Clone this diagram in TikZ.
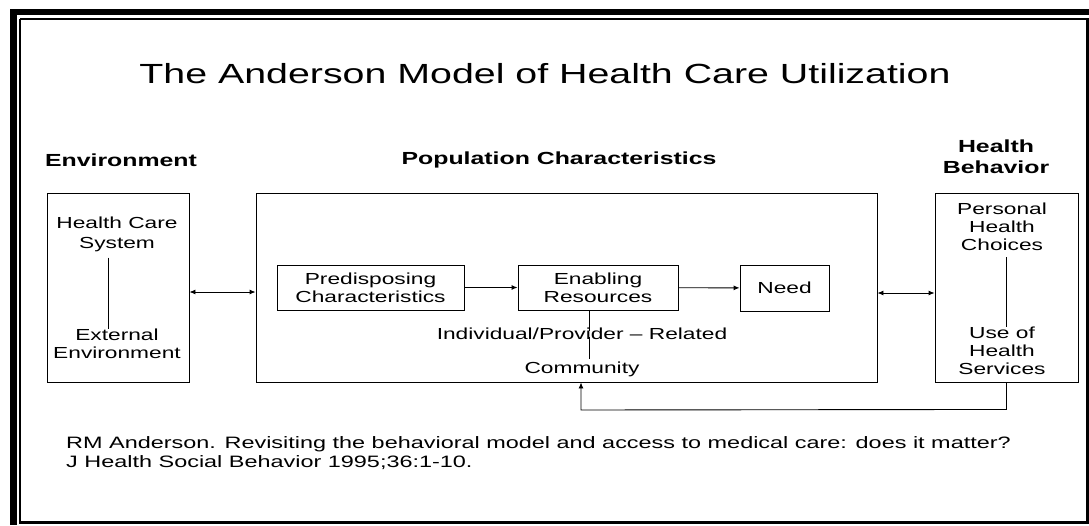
\documentclass[tikz,border=0pt]{standalone}
\usepackage{fontspec}
\setmainfont{Liberation Sans}[FakeStretch=1.42]
\usetikzlibrary{arrows.meta}
\tikzset{
  box/.style={draw, line width=0.9pt, inner sep=0pt, anchor=center},
  txt/.style={inner sep=0pt, align=center, font=\fontsize{16}{18}\selectfont},
  head/.style={inner sep=0pt, align=center, font=\fontsize{17.5}{21}\selectfont\bfseries},
  conn/.style={line width=0.9pt},
  arr/.style={line width=0.9pt, -{Latex[length=6pt,width=5pt]}},
  darr/.style={line width=0.9pt, {Latex[length=6pt,width=5pt]}-{Latex[length=6pt,width=5pt]}},
}
\begin{document}
\begin{tikzpicture}[x=1pt,y=-1pt]
\useasboundingbox (0,0) rectangle (1089,525);
\fill[white] (0,0) rectangle (1089,525);
% frame
\fill[black] (10,9) rectangle (1089,15);
\fill[black] (10,9) rectangle (17,525);
\fill[black] (1086,18) rectangle (1089,524);
\fill[black] (19,521) rectangle (1089,524);
\draw[line width=1.5pt] (20,19) -- (1086,19);
\draw[line width=1.5pt] (20,19) -- (20,521);
% title
\node[inner sep=0pt, font=\fontsize{27.7}{30}\selectfont] (title) at (545,74) {The Anderson Model of Health Care Utilization};
% headers
\node[head] (henv) at (121,160) {Environment};
\node[head] (hpop) at (559,160) {Population Characteristics};
\node[head] (hhb) at (996,157) {Health\\Behavior};
% big boxes
\node[box, minimum width=142pt, minimum height=189pt] (env) at (118,287.5) {};
\node[box, minimum width=621pt, minimum height=189pt] (pop) at (566.5,287.5) {};
\node[box, minimum width=143pt, minimum height=189pt] (hb) at (1006.5,287.5) {};
% inner boxes
\node[box, minimum width=187pt, minimum height=45pt, txt] (pre) at (370.5,287.5) {Predisposing\\Characteristics};
\node[box, minimum width=160pt, minimum height=45pt, txt] (ena) at (598,287.5) {Enabling\\Resources};
\node[box, minimum width=89pt, minimum height=46pt, txt] (need) at (784.5,288) {Need};
% texts
\node[txt, font=\fontsize{16}{20}\selectfont] (hcs) at (117,234) {Health Care\\System};
\node[txt] (ext) at (117,344) {External\\Environment};
\node[txt] (phc) at (1002,227) {Personal\\Health\\Choices};
\node[txt] (uhs) at (1002,351) {Use of\\Health\\Services};
\node[txt] (ipr) at (582,334) {Individual/Provider -- Related};
\node[txt] (com) at (582,369) {Community};
% inner lines
\draw[conn] ([xshift=-9pt,yshift=-6pt]hcs.south) -- ([xshift=-9pt]hcs.south |- ext.north);
\draw[conn] ([xshift=4pt,yshift=-6pt]phc.south) -- ([xshift=4pt]phc.south |- uhs.north);
\draw[conn] ([xshift=-9pt]ena.south) -- ([xshift=-9pt,yshift=-3pt]ena.south |- ipr.north);
\draw[conn] ([xshift=7pt,yshift=3pt]ipr.south) -- ([xshift=7pt,yshift=2pt]ipr.south |- com.north);
% arrows
\draw[darr] ([yshift=-4.5pt]env.east) -- ([yshift=-4.5pt]env.east -| pop.west);
\draw[darr] ([yshift=-5.5pt]pop.east) -- ([yshift=-5.5pt]pop.east -| hb.west);
\draw[arr] (pre) -- (ena);
\draw[arr] (ena) -- (need);
\coordinate (fb1) at ([yshift=-27pt]hb.south);
\coordinate (fb2) at (581,410);
\draw[arr] (hb.south) -- (fb1) -- (fb2) -- (fb2 |- pop.south);
% reference
\node[anchor=north west, inner sep=0pt, align=left, font=\fontsize{16.5}{19}\selectfont] (ref) at (66,436) {RM Anderson. Revisiting the behavioral model and access to medical care: does it matter?\\J Health Social Behavior 1995;36:1-10.};
\end{tikzpicture}
\end{document}
